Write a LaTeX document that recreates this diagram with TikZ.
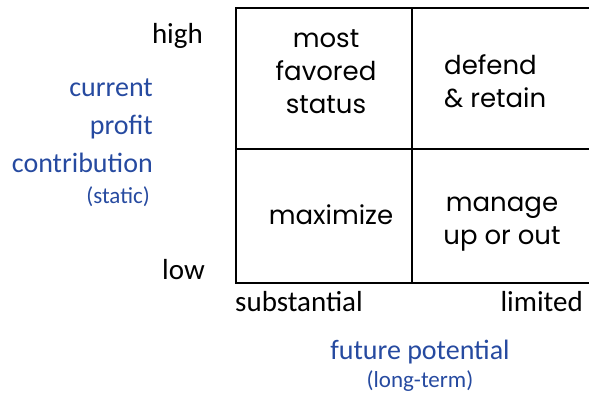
\documentclass[tikz,border=0pt]{standalone}
\usepackage{fontspec}
\setmainfont{Carlito}
\newfontfamily\cellfont{Poppins}
\usepackage{xcolor}
\definecolor{axisblue}{RGB}{38,74,160}
\usetikzlibrary{positioning}

\tikzset{
  gridline/.style={line width=1.4pt, black},
  level/.style={font=\fontsize{29}{30}\selectfont, inner sep=0pt},
  axistitle/.style={font=\fontsize{28}{38}\selectfont, text=axisblue, inner sep=0pt},
  axisnote/.style={font=\fontsize{23}{26}\selectfont, text=axisblue, inner sep=0pt},
  cell/.style={font=\cellfont\fontsize{26}{33}\selectfont, align=center, inner sep=0pt}
}

\begin{document}
\begin{tikzpicture}[x=1pt, y=-1pt]
\useasboundingbox (0,0) rectangle (589,400);

\coordinate (tl) at (236,8);
\coordinate (tr) at (590,8);
\coordinate (bl) at (236,283);
\coordinate (br) at (590,283);
\coordinate (mt) at (412,8);
\coordinate (mb) at (412,283);
\coordinate (ml) at (236,149);
\coordinate (mr) at (590,149);

\draw[gridline] (tr) -- (tl) -- (bl) -- (br);
\draw[gridline] (mt) -- (mb);
\draw[gridline] (ml) -- (mr);

\node[cell] (favored) at (326,72) {most\\favored\\status};
\node[cell, align=left, anchor=west] (defend) at (444,81) {defend\\\&~retain};
\node[cell] (maximize) at (331,215) {maximize};
\node[cell] (manage) at (502,224) {manage\\up or out};

\node[level, anchor=east] (high) at (203,36) {high};
\node[level, anchor=east] (low) at (205,270) {low};
\node[axistitle, anchor=east, align=right] (profit) at (153,126) {current\\profit\\contribution};
\node[axisnote, anchor=north east] (static) at (150,186) {(static)};

\node[level, anchor=west] (substantial) at (235,302) {substantial};
\node[level, anchor=east] (limited) at (583,302) {limited};
\node[axistitle] (future) at (420,352) {future potential};
\node[axisnote, below=6pt of future] (longterm) {(long-term)};
\end{tikzpicture}
\end{document}
